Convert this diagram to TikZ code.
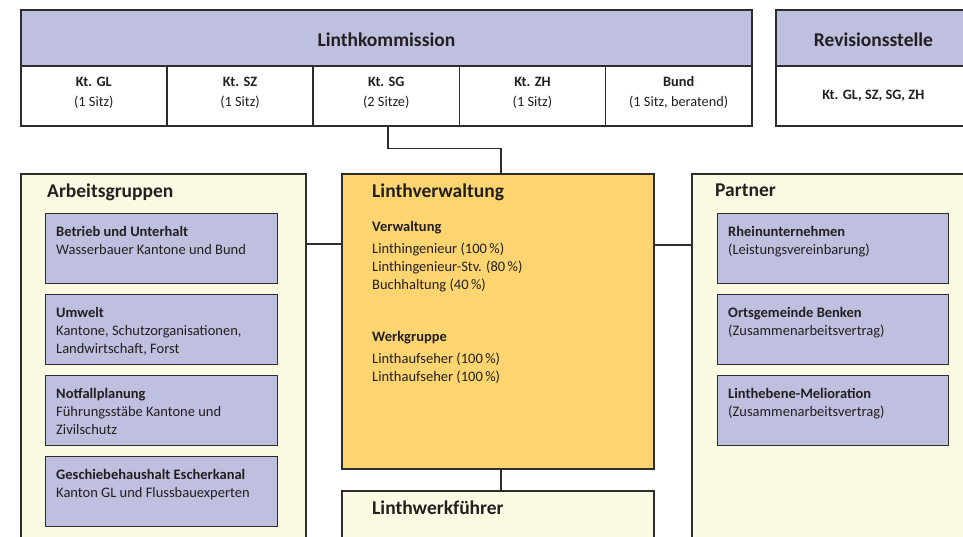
\documentclass[tikz,border=0pt]{standalone}
\usepackage{fontspec}
\setmainfont{Carlito}
\usepackage{tikz}
\usetikzlibrary{positioning}

\definecolor{lila}{RGB}{191,191,223}
\definecolor{gelb}{RGB}{251,250,227}
\definecolor{lvorange}{RGB}{253,213,112}
\definecolor{linie}{RGB}{45,45,45}
\definecolor{schrift}{RGB}{35,31,32}

\tikzset{
  rahmen/.style={draw=linie, line width=1.8pt, anchor=north west, inner sep=0pt},
  zelle/.style={draw=linie, line width=1.5pt, fill=white, anchor=north west, minimum width=146.2pt,
    minimum height=60pt, inner sep=0pt},
  zelltext/.style={align=center, inner sep=0pt, text=schrift, font=\fontsize{14.3}{20}\selectfont},
  feld/.style={draw=linie, line width=1.2pt, fill=lila, anchor=north west, minimum width=232pt,
    minimum height=70pt, inner sep=0pt},
  titel/.style={font=\bfseries\fontsize{19.5}{23}\selectfont, inner sep=0pt, text=schrift},
  inhalt/.style={font=\fontsize{14.5}{18}\selectfont, align=left, inner sep=0pt, text=schrift},
  verbindung/.style={draw=linie, line width=1.8pt}
}

\begin{document}
\begin{tikzpicture}[x=1pt,y=-1pt]
\useasboundingbox (0,0) rectangle (963,536);
% Linthkommission
\node[rahmen, fill=lila, minimum width=731pt, minimum height=56pt] (lk) at (20,9) {};
\node[titel] (lkt) at ([yshift=-2pt]lk.center) {Linthkommission};
\foreach \n/\k/\s [count=\i from 0] in {gl/Kt. GL/(1 Sitz), sz/Kt. SZ/(1 Sitz), sg/Kt. SG/(2 Sitze),
    zh/Kt. ZH/(1 Sitz), bund/Bund/{(1 Sitz, beratend)}}
{
  \node[zelle] (\n) at (20+146.2*\i,65) {};
  \node[zelltext] (\n t) at ([yshift=3pt]\n.center) {\textbf{\k}\\\s};
}
% Revisionsstelle
\node[rahmen, fill=lila, minimum width=195pt, minimum height=56pt] (rs) at (775,9) {};
\node[titel] (rst) at ([yshift=-2pt]rs.center) {Revisionsstelle};
\node[zelle, minimum width=195pt] (rsk) at (775,65) {};
\node[zelltext] (rskt) at (rsk.center) {\textbf{Kt. GL, SZ, SG, ZH}};

% grosse Kaesten
\node[rahmen, fill=gelb, minimum width=285pt, minimum height=400pt] (ag) at (20,173) {};
\node[rahmen, fill=lvorange, minimum width=312pt, minimum height=295pt] (lv) at (341,173) {};
\node[rahmen, fill=gelb, minimum width=312pt, minimum height=80pt] (lw) at (341,490) {};
\node[rahmen, fill=gelb, minimum width=290pt, minimum height=400pt] (pa) at (691,173) {};

\node[titel, below right=11pt and 27pt of ag.north west] (agt) {Arbeitsgruppen};
\node[titel, below right=11pt and 31pt of lv.north west] (lvt) {Linthverwaltung};
\node[titel, below right=11pt and 31pt of lw.north west] (lwt) {Linthwerkführer};
\node[titel, below right=11pt and 24pt of pa.north west] (pat) {Partner};

% Arbeitsgruppen
\node[feld] (bu) at (45,213) {};
\node[feld] (uw) at (45,294) {};
\node[feld] (np) at (45,375) {};
\node[feld] (gh) at (45,456) {};
\node[inhalt, below right=13pt and 11pt of bu.north west] (but) {\textbf{Betrieb und Unterhalt}\\Wasserbauer Kantone und Bund};
\node[inhalt, below right=13pt and 11pt of uw.north west] (uwt) {\textbf{Umwelt}\\Kantone, Schutzorganisationen,\\Landwirtschaft, Forst};
\node[inhalt, below right=13pt and 11pt of np.north west] (npt) {\textbf{Notfallplanung}\\Führungsstäbe Kantone und\\Zivilschutz};
\node[inhalt, below right=13pt and 11pt of gh.north west] (ght) {\textbf{Geschiebehaushalt Escherkanal}\\Kanton GL und Flussbauexperten};

% Linthverwaltung
\node[inhalt, below right=48pt and 31pt of lv.north west] (lvi) {\textbf{Verwaltung}\\[4pt]
  Linthingenieur (100\,\%)\\Linthingenieur-Stv. (80\,\%)\\Buchhaltung (40\,\%)\\[34pt]
  \textbf{Werkgruppe}\\[4pt]Linthaufseher (100\,\%)\\Linthaufseher (100\,\%)};

% Partner
\node[feld, minimum width=231pt] (rh) at (717,213) {};
\node[feld, minimum width=231pt] (ob) at (717,294) {};
\node[feld, minimum width=231pt] (lm) at (717,375) {};
\node[inhalt, below right=13pt and 11pt of rh.north west] (rht) {\textbf{Rheinunternehmen}\\(Leistungsvereinbarung)};
\node[inhalt, below right=13pt and 11pt of ob.north west] (obt) {\textbf{Ortsgemeinde Benken}\\(Zusammenarbeitsvertrag)};
\node[inhalt, below right=13pt and 11pt of lm.north west] (lmt) {\textbf{Linthebene-Melioration}\\(Zusammenarbeitsvertrag)};

% Verbindungen
\coordinate (lvl) at ([yshift=-71pt]lv.north west);
\coordinate (lvr) at ([yshift=-72pt]lv.north east);
\draw[verbindung] (sg.south) ++(2,0) -- ++(0,22) -| ([xshift=3pt]lv.north);
\draw[verbindung] (ag.east |- lvl) -- (lvl);
\draw[verbindung] (lvr) -- (pa.west |- lvr);
\draw[verbindung] ([xshift=3pt]lv.south) -- ([xshift=3pt]lw.north);
\end{tikzpicture}
\end{document}
